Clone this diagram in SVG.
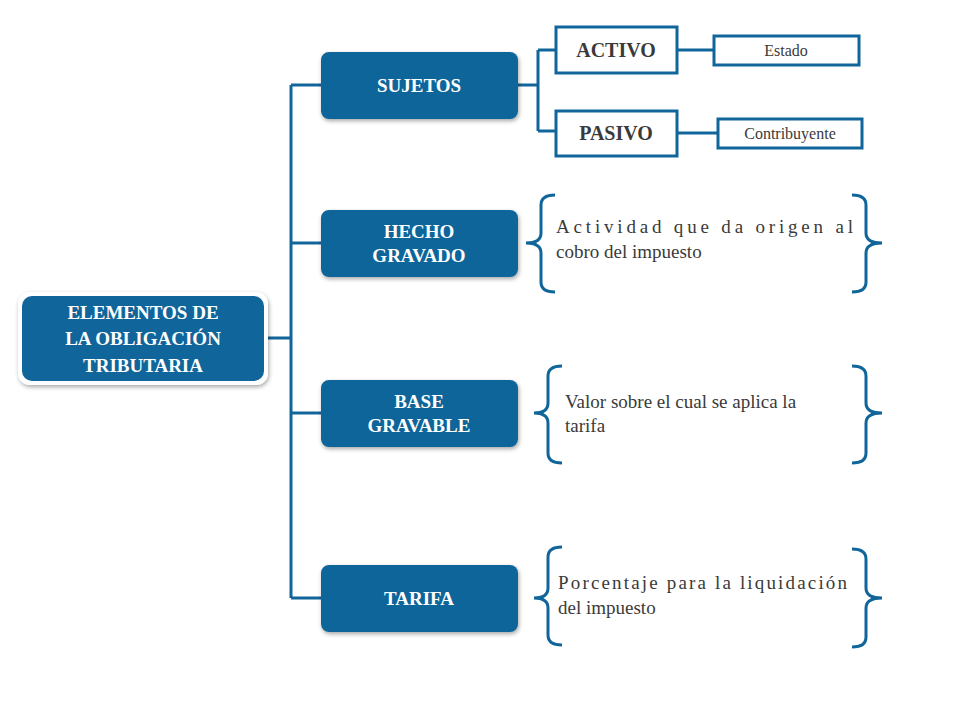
<svg xmlns="http://www.w3.org/2000/svg" width="960" height="720" viewBox="0 0 960 720">
<defs>
<filter id="sh" x="-10%" y="-10%" width="120%" height="130%"><feDropShadow dx="1" dy="2" stdDeviation="2" flood-color="#000" flood-opacity="0.35"/></filter>
<style>
.nb{fill:#10659A;filter:url(#sh)}
.nt{fill:#fff;font-family:"Liberation Serif",serif;font-weight:bold;font-size:19px;text-anchor:middle}
.ob{fill:#fff;stroke:#10659A;stroke-width:3}
.bt{fill:#3a3a3a;font-family:"Liberation Serif",serif;font-weight:bold;font-size:20px;text-anchor:middle}
.st{fill:#3a3a3a;font-family:"Liberation Serif",serif;font-size:16px;text-anchor:middle}
.tx{fill:#3a3a3a;font-family:"Liberation Serif",serif;font-size:19px}
.ln{fill:none;stroke:#10659A;stroke-width:3}
</style>
</defs>
<rect width="960" height="720" fill="#fff"/>
<g id="connectors" class="ln">
<path d="M266,338 H291 M291,85 V598 M291,85 H321 M291,243 H321 M291,413 H321 M291,598 H321"/>
<path d="M518,85 H538 M538,50 V131 M538,50 H556 M538,131 H556 M677,50 H714 M677,133 H718"/>
<path d="M555,195 Q541,195 541,205 V233 Q541,243 526,243 Q541,243 541,253 V282 Q541,292 555,292"/>
<path d="M852,195 Q866,195 866,205 V233 Q866,243 882,243 Q866,243 866,253 V282 Q866,292 852,292"/>
<path d="M562,366 Q548,366 548,376 V403 Q548,413 534,413 Q548,413 548,423 V453 Q548,463 562,463"/>
<path d="M852,366 Q866,366 866,376 V403 Q866,413 882,413 Q866,413 866,423 V453 Q866,463 852,463"/>
<path d="M562,547 Q548,547 548,557 V588 Q548,598 534,598 Q548,598 548,608 V635 Q548,645 562,645"/>
<path d="M852,549 Q866,549 866,559 V588 Q866,598 882,598 Q866,598 866,608 V637 Q866,647 852,647"/>
</g>
<g id="main"><rect x="18" y="292" width="250" height="93" rx="12" fill="#fff" filter="url(#sh)"/><rect x="22" y="296" width="242" height="85" rx="10" fill="#10659A"/>
<text class="nt" x="143" y="319" font-size="20">ELEMENTOS DE</text><text class="nt" x="143" y="345" font-size="20">LA OBLIGACIÓN</text><text class="nt" x="143" y="372" font-size="20">TRIBUTARIA</text></g>
<g id="sujetos"><rect class="nb" x="321" y="52" width="197" height="67" rx="8"/><text class="nt" x="419" y="92">SUJETOS</text></g>
<g id="hecho"><rect class="nb" x="321" y="210" width="197" height="67" rx="8"/><text class="nt" x="419" y="238">HECHO</text><text class="nt" x="419" y="262">GRAVADO</text></g>
<g id="base"><rect class="nb" x="321" y="380" width="197" height="67" rx="8"/><text class="nt" x="419" y="408">BASE</text><text class="nt" x="419" y="432">GRAVABLE</text></g>
<g id="tarifa"><rect class="nb" x="321" y="565" width="197" height="67" rx="8"/><text class="nt" x="419" y="605">TARIFA</text></g>
<g id="activo"><rect class="ob" x="556" y="27" width="121" height="46"/><text class="bt" x="616" y="57">ACTIVO</text></g>
<g id="pasivo"><rect class="ob" x="556" y="111" width="121" height="45"/><text class="bt" x="616" y="140">PASIVO</text></g>
<g id="estado"><rect class="ob" x="714" y="36" width="145" height="29"/><text class="st" x="786" y="56">Estado</text></g>
<g id="contribuyente"><rect class="ob" x="718" y="119" width="144" height="29"/><text class="st" x="790" y="139">Contribuyente</text></g>
<g id="t1"><text class="tx" x="556" y="233" textLength="297" lengthAdjust="spacing">Actividad que da origen al</text><text class="tx" x="556" y="258">cobro del impuesto</text></g>
<g id="t2"><text class="tx" x="565" y="408">Valor sobre el  cual se aplica la</text><text class="tx" x="565" y="432">tarifa</text></g>
<g id="t3"><text class="tx" x="558" y="589" textLength="289" lengthAdjust="spacing">Porcentaje para la liquidación</text><text class="tx" x="558" y="614">del impuesto</text></g>
</svg>
